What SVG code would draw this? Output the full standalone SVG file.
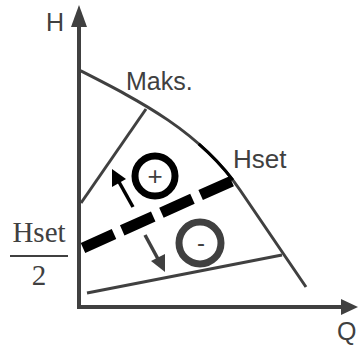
<svg xmlns="http://www.w3.org/2000/svg" width="358" height="348" viewBox="0 0 358 348">
<style>
.t{font-family:"Liberation Sans",Arial,sans-serif;fill:#404040}
.s{font-family:"Liberation Serif","Times New Roman",serif;fill:#404040}
.ln{stroke:#404040;stroke-width:3;fill:none}
</style>
<rect width="358" height="348" fill="#fff"/>
<g id="axes">
<line x1="79" y1="25" x2="79" y2="309" stroke="#404040" stroke-width="4"/>
<polygon points="79,5 71,27 87,27" fill="#404040"/>
<line x1="77" y1="307" x2="343" y2="307" stroke="#404040" stroke-width="4"/>
<polygon points="358,307 341,299 341,315" fill="#404040"/>
<text class="t" x="46" y="31" font-size="25">H</text>
<text class="t" x="337" y="340" font-size="25">Q</text>
</g>
<g id="curve-max">
<path class="ln" d="M79,70 C138,100 200,131 240,190 L306,287"/>
<path d="M198.7,143.9 C214,157.1 228,172.3 240,190" stroke="#000" stroke-width="3" fill="none" stroke-dasharray="50 200"/>
<text class="t" x="126" y="90" font-size="25">Maks.</text>
</g>
<g id="hset">
<text class="t" x="233" y="168" font-size="26">Hset</text>
</g>
<g id="connectors">
<line class="ln" x1="146" y1="109" x2="81" y2="203"/>
<line class="ln" x1="87" y1="293" x2="282" y2="255"/>
<line x1="83" y1="248" x2="232" y2="181" stroke="#000" stroke-width="11" stroke-dasharray="34 9"/>
<line x1="133" y1="207" x2="119" y2="182" stroke="#000" stroke-width="3.5"/>
<polygon points="112,169 112,187 126,179" fill="#000"/>
<line x1="145" y1="235" x2="158" y2="259" stroke="#404040" stroke-width="3.5"/>
<polygon points="165,272 151,261 165,254" fill="#404040"/>
</g>
<g id="plus">
<circle cx="155" cy="176" r="20" fill="none" stroke="#000" stroke-width="7"/>
<text class="t" x="155" y="185" font-size="26" text-anchor="middle" font-weight="300">+</text>
</g>
<g id="minus">
<circle cx="200" cy="243" r="21" fill="none" stroke="#404040" stroke-width="7"/>
<text class="t" x="201" y="251" font-size="24" text-anchor="middle">-</text>
</g>
<g id="fraction">
<text class="s" x="39" y="242" font-size="29" text-anchor="middle">Hset</text>
<line x1="10" y1="256" x2="68" y2="256" stroke="#404040" stroke-width="2"/>
<text class="s" x="39" y="285" font-size="29" text-anchor="middle">2</text>
</g>
</svg>
